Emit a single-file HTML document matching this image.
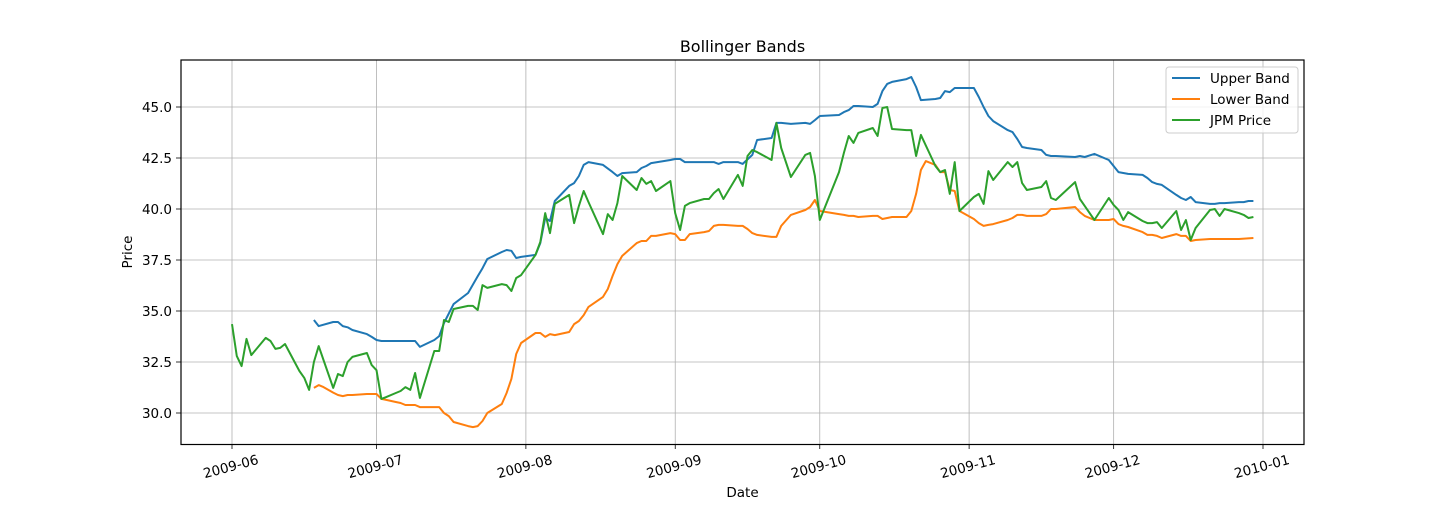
<!DOCTYPE html>
<html><head><meta charset="utf-8"><style>
body{margin:0;background:#fff;}
svg text{font-family:"DejaVu Sans","Liberation Sans",sans-serif;fill:#000;}
</style></head><body>
<svg id="chart" width="1450" height="500" xmlns="http://www.w3.org/2000/svg">
<rect x="0" y="0" width="1450" height="500" fill="#fff"/>
<g id="grid"></g>
<g id="series"></g>
<rect x="181" y="60" width="1123" height="384.5" fill="none" stroke="#000" stroke-width="1.2"/>
<g id="ticks"></g>
<text x="742.5" y="52" font-size="16" text-anchor="middle">Bollinger Bands</text>
<text x="742.5" y="497" font-size="13.5" text-anchor="middle">Date</text>
<text transform="translate(132,252) rotate(-90)" font-size="13.5" text-anchor="middle">Price</text>
<g>
<rect x="1166" y="67" width="132" height="66" rx="3" fill="#fff" fill-opacity="0.8" stroke="#ccc"/>
<g><line x1="1172" y1="78" x2="1200" y2="78" stroke="#1f77b4" stroke-width="2"/><text x="1210" y="83" font-size="13.5">Upper Band</text></g>
<g><line x1="1172" y1="99" x2="1200" y2="99" stroke="#ff7f0e" stroke-width="2"/><text x="1210" y="104" font-size="13.5">Lower Band</text></g>
<g><line x1="1172" y1="120" x2="1200" y2="120" stroke="#2ca02c" stroke-width="2"/><text x="1210" y="125" font-size="13.5">JPM Price</text></g>
</g>
</svg>
<script>
const tickLabels=["2009-06","2009-07","2009-08","2009-09","2009-10","2009-11","2009-12","2010-01"];
const tickDays=[0,30,61,92,122,153,183,214];
const yTicks=[30,32.5,35,37.5,40,42.5,45];
const priceDays=[0,1,2,3,4,7,8,9,10,11,14,15,16,17,18,19,21,22,23,24,25,28,29,30,31,32,34,35,36,37,38,39,42,43,44,45,46,49,50,51,52,53,56,57,58,59,60,63,64,65,66,67,70,71,72,73,74,77,78,79,80,81,84,85,86,87,88,91,92,93,94,95,98,99,100,101,102,105,106,107,108,109,112,113,114,116,119,120,121,122,126,127,128,129,130,133,134,135,136,137,140,141,142,143,146,147,148,149,150,151,154,155,156,157,158,161,162,163,164,165,168,169,170,171,175,176,177,179,182,183,184,185,186,189,190,191,192,193,196,197,198,199,200,203,204,205,206,209,210,211,212];
const priceVals=[34.36,32.79,32.30,33.63,32.84,33.68,33.53,33.14,33.19,33.38,32.06,31.72,31.13,32.50,33.28,32.6,31.23,31.91,31.81,32.5,32.75,32.94,32.35,32.1,30.69,30.78,30.98,31.08,31.27,31.13,31.96,30.74,33.04,33.04,34.56,34.46,35.1,35.25,35.25,35.05,36.27,36.13,36.32,36.27,35.98,36.62,36.76,37.75,38.38,39.8,38.82,40.25,40.69,39.31,40.15,40.88,40.34,38.77,39.75,39.46,40.29,41.62,40.93,41.52,41.23,41.37,40.88,41.37,39.8,38.97,40.15,40.29,40.49,40.49,40.78,40.98,40.49,41.67,41.13,42.6,42.89,42.79,42.4,44.22,42.99,41.57,42.65,42.75,41.62,39.46,41.81,42.75,43.58,43.24,43.73,43.97,43.58,44.95,45.0,43.92,43.87,43.87,42.6,43.63,42.11,41.81,41.91,40.74,42.3,39.9,40.59,40.74,40.25,41.86,41.42,42.3,42.06,42.3,41.27,40.93,41.08,41.37,40.54,40.44,41.32,40.49,40.15,39.46,40.54,40.2,39.95,39.46,39.85,39.41,39.31,39.31,39.36,39.07,39.9,38.97,39.46,38.48,39.07,39.95,40.0,39.66,40.0,39.8,39.71,39.56,39.61];
const upperDays=[17,18,21,22,23,24,25,28,29,30,31,38,39,42,43,44,46,49,51,52,53,56,57,58,59,60,63,64,65,66,67,70,71,72,73,74,77,79,80,81,84,85,86,87,91,92,93,94,98,100,101,102,105,106,108,109,112,113,114,116,119,120,121,122,126,127,128,129,130,133,134,135,136,137,140,141,142,143,146,147,148,149,150,151,154,155,156,157,158,161,162,163,164,165,168,169,170,171,175,176,177,179,182,183,184,186,189,190,191,192,193,196,197,198,199,200,203,204,205,206,209,210,211,212];
const upperVals=[34.56,34.26,34.46,34.46,34.26,34.2,34.07,33.87,33.73,33.58,33.53,33.53,33.24,33.58,33.77,34.41,35.34,35.88,36.7,37.1,37.55,37.89,37.99,37.95,37.6,37.65,37.75,38.33,39.56,39.41,40.39,41.13,41.27,41.62,42.16,42.3,42.16,41.81,41.62,41.76,41.81,42.01,42.11,42.25,42.4,42.45,42.45,42.3,42.3,42.3,42.21,42.3,42.3,42.21,42.65,43.38,43.48,44.22,44.22,44.17,44.22,44.17,44.36,44.56,44.61,44.75,44.85,45.05,45.05,45.0,45.15,45.78,46.13,46.23,46.37,46.47,45.98,45.34,45.39,45.44,45.78,45.73,45.93,45.93,45.93,45.49,45.0,44.56,44.31,43.87,43.77,43.43,43.04,42.99,42.89,42.65,42.6,42.6,42.55,42.6,42.55,42.7,42.4,42.11,41.81,41.72,41.67,41.52,41.32,41.23,41.18,40.69,40.54,40.44,40.59,40.34,40.25,40.25,40.29,40.29,40.34,40.34,40.39,40.39];
const lowerDays=[17,18,19,21,22,23,24,25,28,29,30,31,32,34,35,36,37,38,39,42,43,44,45,46,49,50,51,52,53,56,57,58,59,60,63,64,65,66,67,70,71,72,73,74,77,78,79,80,81,84,85,86,87,88,91,92,93,94,95,98,99,100,101,102,105,106,107,108,109,112,113,114,116,119,120,121,122,126,127,128,129,130,133,134,135,136,137,140,141,142,143,144,146,147,148,149,150,151,154,155,156,157,158,161,162,163,164,165,168,169,170,171,175,176,177,179,182,183,184,185,186,189,190,191,192,193,196,197,198,199,200,203,206,209,212];
const lowerVals=[31.23,31.37,31.27,31.0,30.88,30.83,30.88,30.88,30.93,30.93,30.93,30.69,30.64,30.54,30.49,30.39,30.39,30.39,30.29,30.29,30.29,30.0,29.85,29.56,29.36,29.31,29.36,29.61,30.0,30.44,30.98,31.67,32.89,33.43,33.92,33.92,33.73,33.87,33.82,33.97,34.36,34.51,34.8,35.2,35.69,36.08,36.72,37.3,37.7,38.33,38.43,38.43,38.68,38.68,38.82,38.77,38.48,38.48,38.77,38.87,38.92,39.17,39.22,39.22,39.17,39.17,39.02,38.82,38.73,38.63,38.63,39.17,39.71,39.95,40.1,40.44,39.9,39.75,39.71,39.66,39.66,39.61,39.66,39.66,39.51,39.56,39.61,39.61,39.9,40.74,41.91,42.35,42.16,41.81,41.81,40.93,40.88,39.9,39.51,39.31,39.17,39.22,39.26,39.46,39.56,39.71,39.71,39.66,39.66,39.75,40.0,40.0,40.1,39.85,39.66,39.46,39.46,39.51,39.26,39.17,39.12,38.87,38.73,38.73,38.68,38.58,38.77,38.68,38.68,38.43,38.48,38.53,38.53,38.53,38.58];

const NS="http://www.w3.org/2000/svg";
const xS=d=>232+d*(1263-232)/214;
const yS=v=>413-(v-30)*(413-107)/15;
const grid=document.getElementById('grid'),ticks=document.getElementById('ticks'),series=document.getElementById('series');
function mk(tag,attrs,parent){const e=document.createElementNS(NS,tag);for(const k in attrs)e.setAttribute(k,attrs[k]);parent.appendChild(e);return e;}
tickDays.forEach((d,i)=>{
  const x=xS(d);
  const g=mk('line',{x1:x,x2:x,y1:60,y2:444,stroke:'#b0b0b0','stroke-width':0.8},grid);
  
  
  const t=mk('line',{x1:x,x2:x,y1:444,y2:449,stroke:'#000','stroke-width':0.8},ticks);
  
  
  const tx=mk('text',{transform:`translate(${x},471) rotate(-15)`,'font-size':13.5,'text-anchor':'middle'},ticks);
  tx.textContent=tickLabels[i];
  
  
});
yTicks.forEach(v=>{
  const y=yS(v);
  const g=mk('line',{x1:181,x2:1304,y1:y,y2:y,stroke:'#b0b0b0','stroke-width':0.8},grid);
  
  
  const t=mk('line',{x1:176,x2:181,y1:y,y2:y,stroke:'#000','stroke-width':0.8},ticks);
  
  
  const tx=mk('text',{x:172,y:y+5,'font-size':13.5,'text-anchor':'end'},ticks);
  tx.textContent=v.toFixed(1);
  
  
});
function line(days,vals,color,name){
  const pts=days.map((d,i)=>xS(d).toFixed(1)+','+yS(vals[i]).toFixed(1)).join(' ');
  const p=mk('polyline',{points:pts,fill:'none',stroke:color,'stroke-width':2,'stroke-linejoin':'round'},series);
  
  
}
line(upperDays,upperVals,'#1f77b4');

line(lowerDays,lowerVals,'#ff7f0e');

line(priceDays,priceVals,'#2ca02c');

</script>
</body></html>
